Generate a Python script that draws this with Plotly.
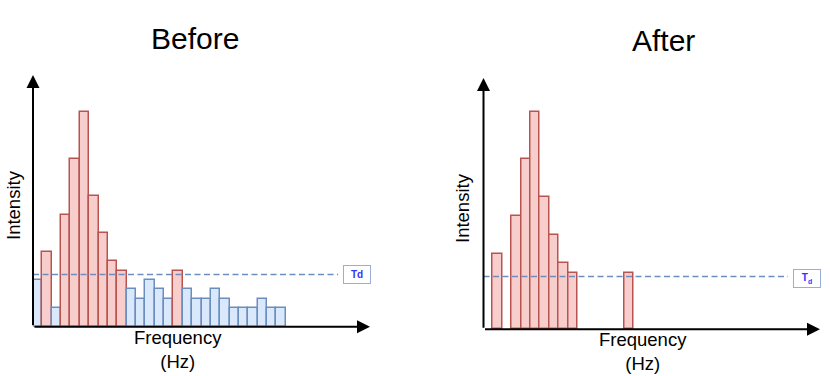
import plotly.graph_objects as go

# ------------------------------------------------------------
# DATA
# ------------------------------------------------------------
slots = list(range(27))
intensity = [5, 8, 2, 12, 18, 23, 14, 10, 7, 6, 4, 3, 5, 4, 3, 6, 4, 3, 3, 4, 3, 2, 2, 2, 3, 2, 2]
threshold = 5.6
titles = ["Before", "After"]

RED_FILL, RED_LINE = "#f8cecc", "#b85450"
BLUE_FILL, BLUE_LINE = "#dae8fc", "#6c8ebf"
FONT = "Liberation Sans, Arial, sans-serif"

# full page; body margin is removed in post_script below
W, H = 830, 376


def px(x):
    return x / W


def py(y):
    return (H - y) / H


above = [v > threshold for v in intensity]
xs = [s + 0.5 for s in slots]

fig = go.Figure()

# Before: all bars, coloured by threshold
fig.add_trace(go.Bar(
    x=xs, y=intensity, width=1,
    marker=dict(color=[RED_FILL if a else BLUE_FILL for a in above],
                line=dict(color=[RED_LINE if a else BLUE_LINE for a in above], width=1.5)),
    xaxis="x", yaxis="y", showlegend=False, hoverinfo="none"))

# After: only bars above threshold
fig.add_trace(go.Bar(
    x=[x for x, a in zip(xs, above) if a],
    y=[v for v, a in zip(intensity, above) if a], width=1,
    marker=dict(color=RED_FILL, line=dict(color=RED_LINE, width=1.5)),
    xaxis="x2", yaxis="y2", showlegend=False, hoverinfo="none"))

ax_hidden = dict(visible=False, fixedrange=True)

# pixel geometry of the two panels (page pixels)
panels = [
    dict(x0=33, x1=370, y0=326.7, y1=75, xr=36.0, yr=27.0, dash_end=32.6,
         title=(195, 39), inten=(13, 205), freq=(178, 349), box=(357, 274.5), td="Td"),
    dict(x0=483.5, x1=820, y0=329.3, y1=78, xr=35.8, yr=26.6, dash_end=32.4,
         title=(663, 40), inten=(462, 208), freq=(643, 351), box=(807, 278), td="T<sub>d</sub>"),
]

layout = dict(
    width=W, height=H,
    paper_bgcolor="white", plot_bgcolor="white",
    margin=dict(l=0, r=0, t=0, b=0),
    bargap=0,
    font=dict(family=FONT, color="black"),
)

annotations = []
shapes = []
for i, p in enumerate(panels):
    sx = "" if i == 0 else "2"
    layout["xaxis" + sx] = dict(ax_hidden, domain=[px(p["x0"]), px(p["x1"])], range=[0, p["xr"]])
    layout["yaxis" + sx] = dict(ax_hidden, domain=[py(p["y0"]), py(p["y1"])], range=[0, p["yr"]])
    xref, yref = "x" + sx, "y" + sx

    # axis arrows
    annotations.append(dict(x=p["xr"], y=0, ax=0, ay=0, xref=xref, yref=yref, axref=xref, ayref=yref,
                            showarrow=True, arrowhead=2, arrowsize=1.3, arrowwidth=2,
                            arrowcolor="black", text=""))
    annotations.append(dict(x=0, y=p["yr"], ax=0, ay=0, xref=xref, yref=yref, axref=xref, ayref=yref,
                            showarrow=True, arrowhead=2, arrowsize=1.3, arrowwidth=2,
                            arrowcolor="black", text=""))

    # threshold line
    shapes.append(dict(type="line", xref=xref, yref=yref, x0=0, x1=p["dash_end"],
                       y0=threshold, y1=threshold,
                       line=dict(color=BLUE_LINE, width=1.5, dash="6px,3.5px")))

    # texts
    annotations.append(dict(x=px(p["title"][0]), y=py(p["title"][1]), xref="paper", yref="paper",
                            text=titles[i], showarrow=False, font=dict(size=30),
                            xanchor="center", yanchor="middle"))
    annotations.append(dict(x=px(p["inten"][0]), y=py(p["inten"][1]), xref="paper", yref="paper",
                            text="Intensity", textangle=-90, showarrow=False, font=dict(size=18.5),
                            xanchor="center", yanchor="middle"))
    annotations.append(dict(x=px(p["freq"][0]), y=py(p["freq"][1]), xref="paper", yref="paper",
                            text="Frequency<br>(Hz)", showarrow=False, font=dict(size=18.5),
                            xanchor="center", yanchor="middle"))
    annotations.append(dict(x=px(p["box"][0]), y=py(p["box"][1]), xref="paper", yref="paper",
                            text="<b>" + p["td"] + "</b>", showarrow=False,
                            font=dict(size=10, color="#3333ff"),
                            width=24, height=15, bgcolor="white",
                            bordercolor="#97afd8", borderwidth=1, borderpad=1,
                            xanchor="center", yanchor="middle"))

layout["annotations"] = annotations
layout["shapes"] = shapes
fig.update_layout(**layout)

fig.write_html("out.html", config=dict(displayModeBar=False),
               post_script="document.body.style.margin='0px'; document.body.style.overflow='hidden';")
